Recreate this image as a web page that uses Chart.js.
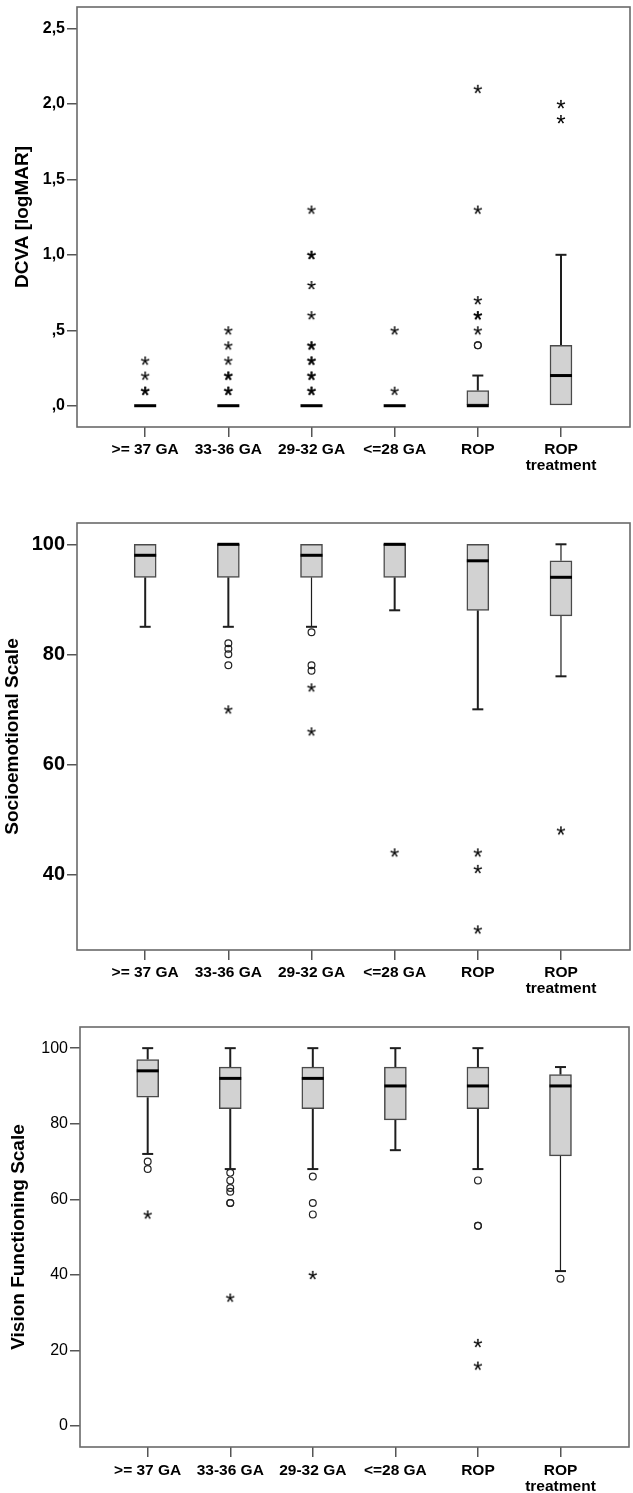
<!DOCTYPE html>
<html><head><meta charset="utf-8">
<script src="https://cdn.jsdelivr.net/npm/chart.js@4.4.1/dist/chart.umd.min.js"></script>
<style>
html,body{margin:0;padding:0;background:#fff;}
body{width:633px;height:1493px;position:relative;overflow:hidden;}
canvas{position:absolute;left:0;}
</style></head><body>
<canvas id="c1" width="633" height="485" style="top:0px"></canvas>
<canvas id="c2" width="633" height="515" style="top:485px"></canvas>
<canvas id="c3" width="633" height="493" style="top:1000px"></canvas>
<script>
// ---------- data ----------
const categories = ['>= 37 GA', '33-36 GA', '29-32 GA', '<=28 GA', 'ROP', ['ROP', 'treatment']];

// Panel 1: DCVA [logMAR]
const dcvaQ1          = [0, 0, 0, 0, 0, 0];
const dcvaMedian      = [0, 0, 0, 0, 0, 0.2];
const dcvaQ3          = [0, 0, 0, 0, 0.1, 0.4];
const dcvaWhiskerLow  = [0, 0, 0, 0, 0, 0];
const dcvaWhiskerHigh = [0, 0, 0, 0, 0.2, 1.0];
const dcvaCircles     = [[], [], [], [], [0.4, 0.4], []];
const dcvaStars       = [[0.1, 0.1, 0.2, 0.3], [0.1, 0.1, 0.2, 0.2, 0.3, 0.4, 0.5],
                         [0.1, 0.1, 0.2, 0.2, 0.3, 0.3, 0.4, 0.4, 0.6, 0.8, 1.0, 1.0, 1.3],
                         [0.1, 0.5], [0.5, 0.6, 0.6, 0.7, 1.3, 2.1], [1.9, 2.0]];
const dcvaTicks       = [0, 0.5, 1, 1.5, 2, 2.5];
const dcvaTickLabels  = [',0', ',5', '1,0', '1,5', '2,0', '2,5'];

// Panel 2: Socioemotional Scale
const socQ1          = [94, 94, 94, 94, 88, 87];
const socMedian      = [98, 100, 98, 100, 97, 94];
const socQ3          = [100, 100, 100, 100, 100, 97];
const socWhiskerLow  = [85, 85, 85, 88, 70, 76];
const socWhiskerHigh = [100, 100, 100, 100, 100, 100];
const socCircles     = [[], [82, 81, 80, 78], [84, 78, 77], [], [], []];
const socStars       = [[], [70], [74, 66], [44], [44, 41, 30], [48]];
const socTicks       = [40, 60, 80, 100];
const socTickLabels  = ['40', '60', '80', '100'];

// Panel 3: Vision Functioning Scale
const visQ1          = [87, 84, 84, 81, 84, 71.5];
const visMedian      = [94, 92, 92, 90, 90, 90];
const visQ3          = [97, 95, 95, 95, 95, 93];
const visWhiskerLow  = [72, 68, 68, 73, 68, 41];
const visWhiskerHigh = [100, 100, 100, 100, 100, 95];
const visCircles     = [[70, 68], [67, 65, 63, 62, 59, 59], [66, 59, 56], [], [65, 53, 53], [39]];
const visStars       = [[56], [34], [40], [], [22, 16], []];
const visTicks       = [0, 20, 40, 60, 80, 100];
const visTickLabels  = ['0', '20', '40', '60', '80', '100'];

// ---------- helpers ----------
const FAMILY = '"Liberation Sans", Arial, Helvetica, sans-serif';

function makeStar() {
  const c = document.createElement('canvas');
  c.width = 14; c.height = 14;
  const g = c.getContext('2d');
  g.fillStyle = '#000';
  g.font = '24px ' + FAMILY;
  g.textAlign = 'center';
  g.textBaseline = 'alphabetic';
  const m = g.measureText('*');
  const base = 7 + (m.actualBoundingBoxAscent - m.actualBoundingBoxDescent) / 2;
  g.fillText('*', 7, base);
  return c;
}
const STAR = makeStar();

const framePlugin = {
  id: 'frame',
  beforeDatasetsDraw(chart) {
    const {ctx, chartArea: a} = chart;
    ctx.save();
    ctx.strokeStyle = '#6a6a6a';
    ctx.lineWidth = 1.6;
    ctx.strokeRect(a.left, a.top, a.right - a.left, a.bottom - a.top);
    ctx.restore();
  }
};

function pts(lists) {
  const out = [];
  lists.forEach((vals, i) => vals.forEach(v => out.push({x: i, y: v})));
  return out;
}

function makePanel(id, p) {
  const n = categories.length;
  const boxes = [], medians = [], whiskers = [], caps = [];
  for (let i = 0; i < n; i++) {
    boxes.push({x: i, y: [p.q1[i], p.q3[i]]});
    medians.push({x: i, y: p.med[i]});
    if (p.lo[i] < p.q1[i]) {
      whiskers.push({x: i, y: p.lo[i]}, {x: i, y: p.q1[i]}, {x: i, y: null});
      caps.push({x: i, y: p.lo[i]});
    }
    if (p.hi[i] > p.q3[i]) {
      whiskers.push({x: i, y: p.q3[i]}, {x: i, y: p.hi[i]}, {x: i, y: null});
      caps.push({x: i, y: p.hi[i]});
    }
  }
  const thinLower = p.thinLower || [], thinUpper = p.thinUpper || [];
  const whiskerWidth = c => {
    const i = c.p0.parsed.x;
    const isLower = c.p0.parsed.y < p.q1[i] || c.p1.parsed.y < p.q1[i];
    return (isLower ? thinLower : thinUpper).includes(i) ? 1.2 : 2;
  };
  const el = document.getElementById(id);
  return new Chart(el, {
    type: 'scatter',
    data: {
      datasets: [
        {type: 'scatter', data: pts(p.stars), pointStyle: STAR, pointRadius: 5, order: 0},
        {type: 'scatter', data: pts(p.circles), pointStyle: 'circle', pointRadius: 3.4,
         pointBorderWidth: 1.2, pointBorderColor: '#222', pointBackgroundColor: 'rgba(0,0,0,0)', order: 0},
        {type: 'scatter', data: medians, pointStyle: 'line', pointRadius: 11,
         pointBorderWidth: 3, pointBorderColor: '#000', order: 1},
        {type: 'scatter', data: caps, pointStyle: 'line', pointRadius: 5.5,
         pointBorderWidth: 2, pointBorderColor: '#1e1e1e', order: 2},
        {type: 'bar', data: boxes, barThickness: 22, backgroundColor: '#d2d2d2',
         borderColor: '#4a4a4a', borderWidth: 1.5, borderSkipped: false, order: 3},
        {type: 'scatter', data: whiskers, showLine: true, spanGaps: false, pointRadius: 0,
         borderColor: '#1e1e1e', borderWidth: 2, segment: {borderWidth: whiskerWidth}, order: 4}
      ]
    },
    options: {
      responsive: false,
      animation: false,
      devicePixelRatio: 1,
      events: [],
      layout: {autoPadding: false, padding: {top: p.top, right: p.right, bottom: 0, left: 0}},
      plugins: {legend: {display: false}, tooltip: {enabled: false}},
      scales: {
        x: {
          type: 'linear', min: -0.82, max: 5.83, offset: false,
          afterBuildTicks: s => { s.ticks = categories.map((c, i) => ({value: i})); },
          afterFit: s => { s.height = p.xHeight; s.paddingLeft = 0; s.paddingRight = 0; },
          ticks: {
            autoSkip: false, maxRotation: 0, minRotation: 0, padding: p.xPad, color: '#000',
            font: {family: FAMILY, size: 15.5, weight: 'bold', lineHeight: 1.03},
            callback: v => categories[v]
          },
          grid: {offset: false, drawOnChartArea: false, drawTicks: true, tickLength: 10,
                 color: '#555', lineWidth: 1.5},
          border: {display: false}
        },
        y: {
          type: 'linear', min: p.min, max: p.max,
          afterBuildTicks: s => { s.ticks = p.ticks.map(v => ({value: v})); },
          afterFit: s => { s.width = p.yWidth; s.paddingTop = 0; s.paddingBottom = 0; },
          ticks: {
            padding: 2, color: '#000',
            font: {family: FAMILY, size: p.tickSize, weight: p.tickWeight},
            callback: (v, i) => p.tickLabels[i]
          },
          grid: {drawOnChartArea: false, drawTicks: true, tickLength: 10, color: '#555', lineWidth: 1.5},
          border: {display: false},
          title: {display: true, text: p.title, color: '#000',
                  font: {family: FAMILY, size: 19, weight: 'bold'},
                  padding: {top: p.titlePad, bottom: 0}}
        }
      }
    },
    plugins: [framePlugin]
  });
}

makePanel('c1', {
  q1: dcvaQ1, med: dcvaMedian, q3: dcvaQ3, lo: dcvaWhiskerLow, hi: dcvaWhiskerHigh,
  circles: dcvaCircles, stars: dcvaStars, ticks: dcvaTicks, tickLabels: dcvaTickLabels,
  min: -0.141, max: 2.642, top: 7, right: 3, xHeight: 58, yWidth: 77, xPad: 5,
  tickSize: 16, tickWeight: 'bold', title: 'DCVA [logMAR]', titlePad: 11
});
makePanel('c2', {
  q1: socQ1, med: socMedian, q3: socQ3, lo: socWhiskerLow, hi: socWhiskerHigh,
  circles: socCircles, stars: socStars, ticks: socTicks, tickLabels: socTickLabels,
  min: 26.25, max: 103.87, top: 38, right: 3, xHeight: 50, yWidth: 77, xPad: 5,
  tickSize: 20, tickWeight: 'bold', title: 'Socioemotional Scale', titlePad: 1,
  thinLower: [2, 5], thinUpper: [5]
});
makePanel('c3', {
  q1: visQ1, med: visMedian, q3: visQ3, lo: visWhiskerLow, hi: visWhiskerHigh,
  circles: visCircles, stars: visStars, ticks: visTicks, tickLabels: visTickLabels,
  min: -5.56, max: 105.6, top: 27, right: 4, xHeight: 46, yWidth: 80, xPad: 6,
  tickSize: 16, tickWeight: 'normal', title: 'Vision Functioning Scale', titlePad: 7,
  thinLower: [5]
});
</script>
</body></html>
